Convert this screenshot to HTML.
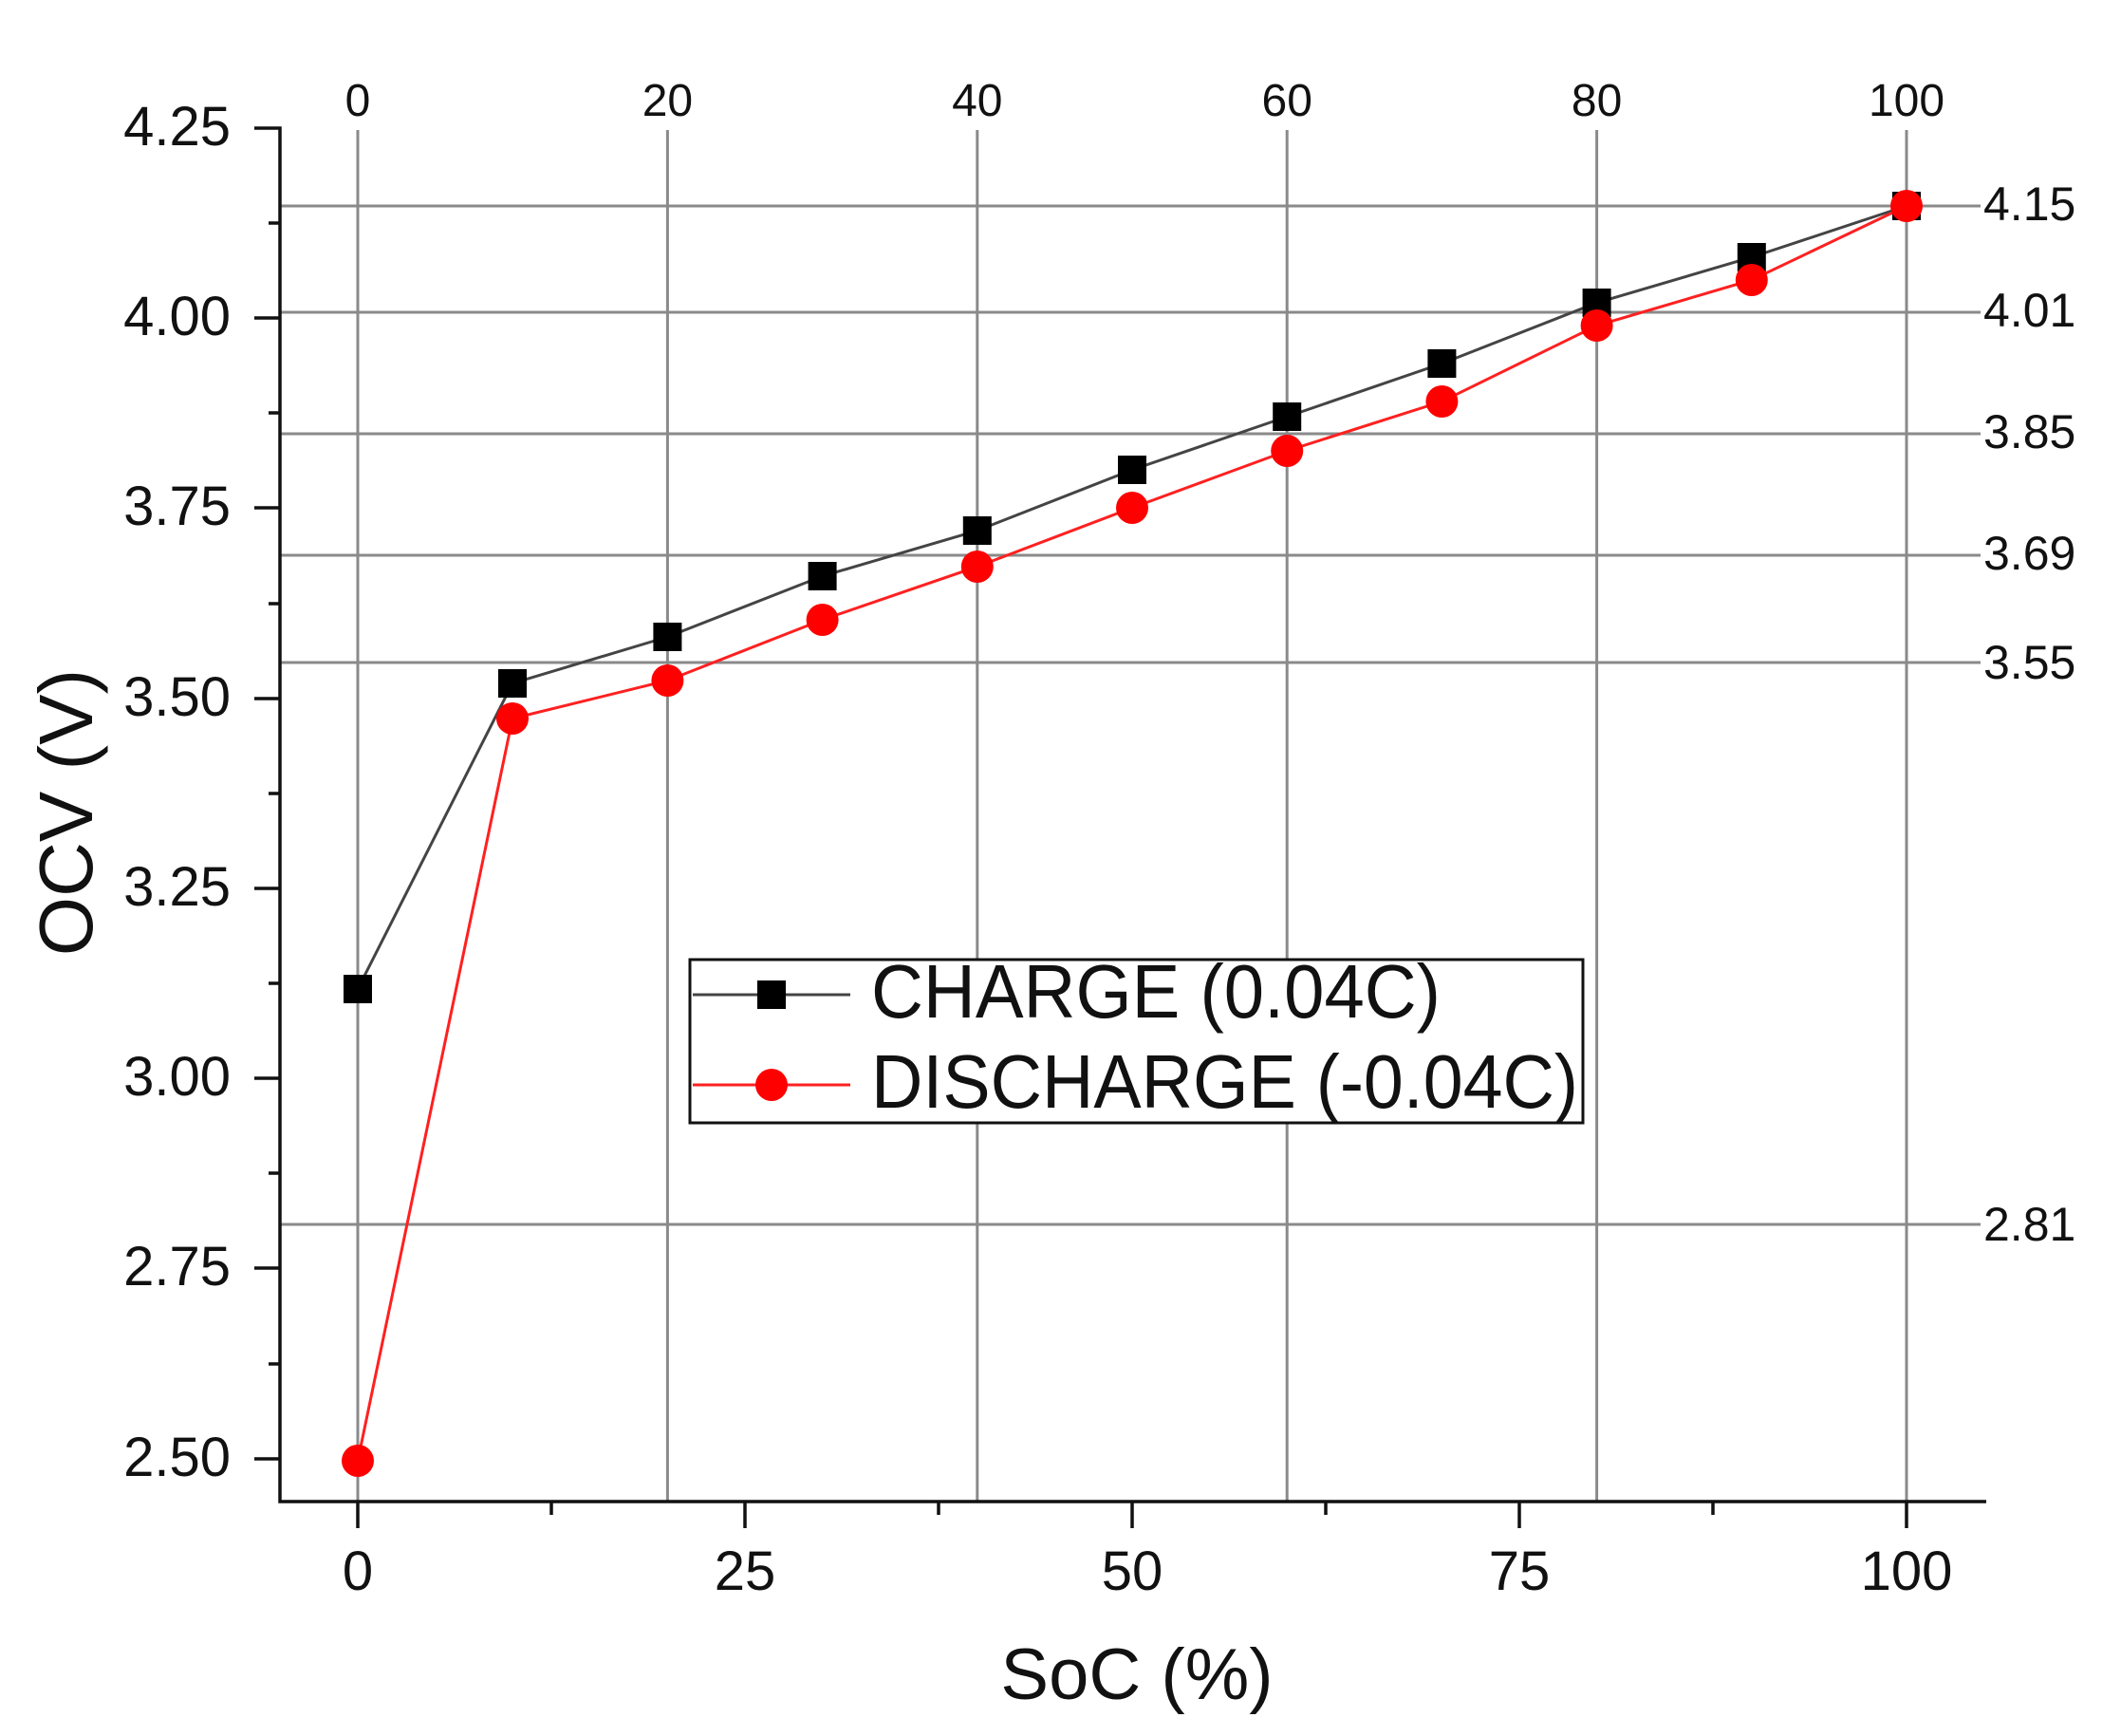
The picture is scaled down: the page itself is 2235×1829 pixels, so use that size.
<!DOCTYPE html>
<html><head><meta charset="utf-8"><style>
html,body{margin:0;padding:0;background:#fff;}
svg{display:block;}
text{font-family:"Liberation Sans Narrow","Liberation Sans",sans-serif;fill:#111;}
</style></head><body>
<svg width="2235" height="1829" viewBox="0 0 2235 1829" xmlns="http://www.w3.org/2000/svg">
<!-- y(v)=137+(4.25-v)*801 ; x(s)=377+16.32*s -->
<g stroke="#8a8a8a" stroke-width="3">
<line x1="377" y1="137" x2="377" y2="1582"/>
<line x1="703.4" y1="137" x2="703.4" y2="1582"/>
<line x1="1029.8" y1="137" x2="1029.8" y2="1582"/>
<line x1="1356.2" y1="137" x2="1356.2" y2="1582"/>
<line x1="1682.6" y1="137" x2="1682.6" y2="1582"/>
<line x1="2009" y1="137" x2="2009" y2="1582"/>
<line x1="295" y1="217" x2="2087" y2="217"/>
<line x1="295" y1="329" x2="2087" y2="329"/>
<line x1="295" y1="457" x2="2087" y2="457"/>
<line x1="295" y1="585" x2="2087" y2="585"/>
<line x1="295" y1="698" x2="2087" y2="698"/>
<line x1="295" y1="1290" x2="2087" y2="1290"/>
</g>
<!-- axes -->
<g stroke="#111" stroke-width="3.5" fill="none">
<polyline points="268,135 295,135 295,1582 2093,1582"/>
<line x1="268" y1="335" x2="295" y2="335"/>
<line x1="268" y1="535" x2="295" y2="535"/>
<line x1="268" y1="736" x2="295" y2="736"/>
<line x1="268" y1="936" x2="295" y2="936"/>
<line x1="268" y1="1136" x2="295" y2="1136"/>
<line x1="268" y1="1336" x2="295" y2="1336"/>
<line x1="268" y1="1537" x2="295" y2="1537"/>
<line x1="283" y1="235" x2="295" y2="235"/>
<line x1="283" y1="435" x2="295" y2="435"/>
<line x1="283" y1="636" x2="295" y2="636"/>
<line x1="283" y1="836" x2="295" y2="836"/>
<line x1="283" y1="1036" x2="295" y2="1036"/>
<line x1="283" y1="1236" x2="295" y2="1236"/>
<line x1="283" y1="1437" x2="295" y2="1437"/>
<line x1="377" y1="1582" x2="377" y2="1610"/>
<line x1="785" y1="1582" x2="785" y2="1610"/>
<line x1="1193" y1="1582" x2="1193" y2="1610"/>
<line x1="1601" y1="1582" x2="1601" y2="1610"/>
<line x1="2009" y1="1582" x2="2009" y2="1610"/>
<line x1="581" y1="1582" x2="581" y2="1596"/>
<line x1="989" y1="1582" x2="989" y2="1596"/>
<line x1="1397" y1="1582" x2="1397" y2="1596"/>
<line x1="1805" y1="1582" x2="1805" y2="1596"/>
</g>
<!-- left labels -->
<g font-size="58" text-anchor="end">
<text x="243" y="153">4.25</text>
<text x="243" y="353">4.00</text>
<text x="243" y="553">3.75</text>
<text x="243" y="754">3.50</text>
<text x="243" y="954">3.25</text>
<text x="243" y="1154">3.00</text>
<text x="243" y="1354">2.75</text>
<text x="243" y="1555">2.50</text>
</g>
<!-- bottom labels -->
<g font-size="58" text-anchor="middle">
<text x="377" y="1675">0</text>
<text x="785" y="1675">25</text>
<text x="1193" y="1675">50</text>
<text x="1601" y="1675">75</text>
<text x="2009" y="1675">100</text>
</g>
<!-- top labels -->
<g font-size="48" text-anchor="middle">
<text x="377" y="122">0</text>
<text x="703.4" y="122">20</text>
<text x="1029.8" y="122">40</text>
<text x="1356.2" y="122">60</text>
<text x="1682.6" y="122">80</text>
<text x="2009" y="122">100</text>
</g>
<!-- right labels -->
<g font-size="50">
<text x="2090" y="232">4.15</text>
<text x="2090" y="344">4.01</text>
<text x="2090" y="472">3.85</text>
<text x="2090" y="600">3.69</text>
<text x="2090" y="715">3.55</text>
<text x="2090" y="1307">2.81</text>
</g>
<!-- axis titles -->
<text x="1198" y="1790" font-size="76" text-anchor="middle" font-family="Liberation Sans, sans-serif">SoC (%)</text>
<text transform="translate(97,856) rotate(-90)" font-size="80" text-anchor="middle" font-family="Liberation Sans, sans-serif">OCV (V)</text>
<!-- series -->
<polyline fill="none" stroke="#444" stroke-width="3" points="377,1042 540,720 703.4,671 866.6,607 1029.8,559 1193,495 1356.2,439 1519.4,383 1682.6,319 1845.8,271 2009,217"/>
<polyline fill="none" stroke="#ff2020" stroke-width="3" points="377,1539 540,757 703.4,717 866.6,653 1029.8,597 1193,535 1356.2,475 1519.4,423 1682.6,343 1845.8,295 2009,217"/>
<g fill="#000">
<rect x="362" y="1027" width="30" height="30"/>
<rect x="525" y="705" width="30" height="30"/>
<rect x="688.4" y="656" width="30" height="30"/>
<rect x="851.6" y="592" width="30" height="30"/>
<rect x="1014.8" y="544" width="30" height="30"/>
<rect x="1178" y="480" width="30" height="30"/>
<rect x="1341.2" y="424" width="30" height="30"/>
<rect x="1504.4" y="368" width="30" height="30"/>
<rect x="1667.6" y="304" width="30" height="30"/>
<rect x="1830.8" y="256" width="30" height="30"/>
<rect x="1994" y="202" width="30" height="30"/>
</g>
<g fill="#ff0000">
<circle cx="377" cy="1539" r="17"/>
<circle cx="540" cy="757" r="17"/>
<circle cx="703.4" cy="717" r="17"/>
<circle cx="866.6" cy="653" r="17"/>
<circle cx="1029.8" cy="597" r="17"/>
<circle cx="1193" cy="535" r="17"/>
<circle cx="1356.2" cy="475" r="17"/>
<circle cx="1519.4" cy="423" r="17"/>
<circle cx="1682.6" cy="343" r="17"/>
<circle cx="1845.8" cy="295" r="17"/>
<circle cx="2009" cy="217" r="17"/>
</g>
<!-- legend -->
<rect x="727" y="1011" width="941" height="172" fill="#fff" stroke="#111" stroke-width="3"/>
<line x1="730" y1="1048" x2="896" y2="1048" stroke="#444" stroke-width="3"/>
<rect x="798" y="1033" width="30" height="30" fill="#000"/>
<line x1="730" y1="1143" x2="896" y2="1143" stroke="#ff2020" stroke-width="3"/>
<circle cx="813" cy="1143" r="17" fill="#ff0000"/>
<text x="918" y="1072" font-size="80" textLength="600" lengthAdjust="spacingAndGlyphs" font-family="Liberation Sans, sans-serif">CHARGE (0.04C)</text>
<text x="918" y="1167" font-size="80" textLength="745" lengthAdjust="spacingAndGlyphs" font-family="Liberation Sans, sans-serif">DISCHARGE (-0.04C)</text>
</svg>
</body></html>
